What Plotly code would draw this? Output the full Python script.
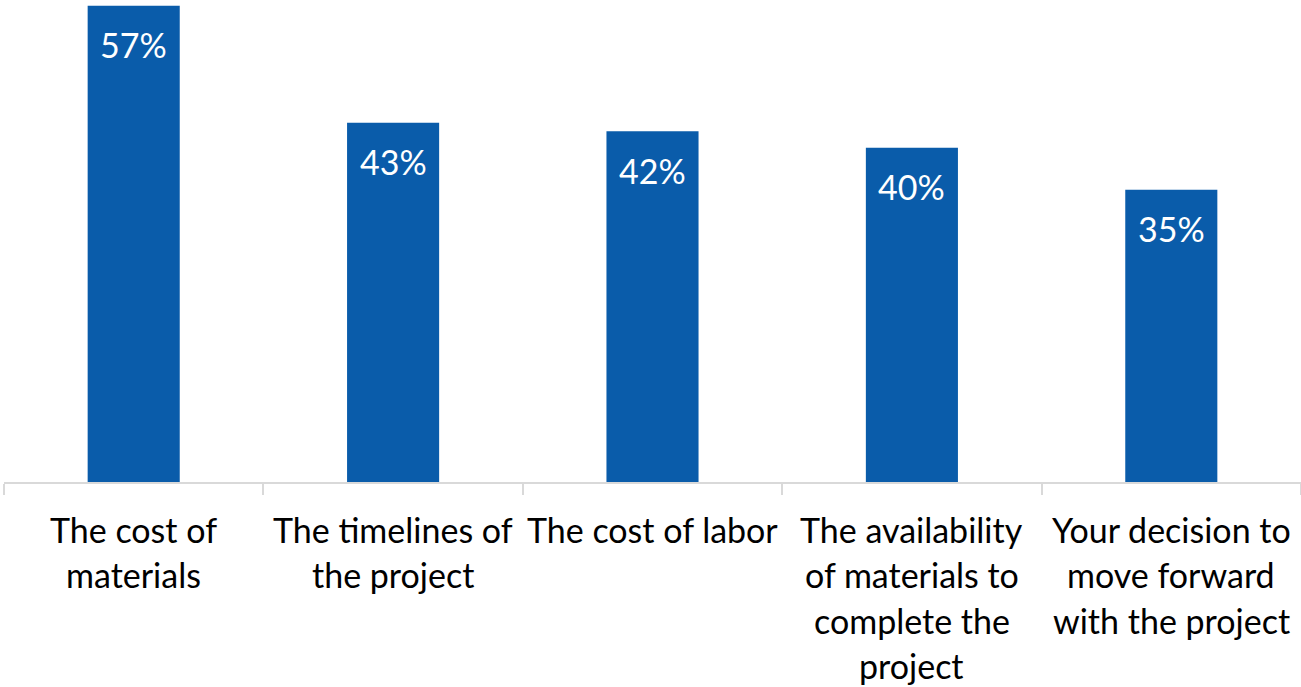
import plotly.graph_objects as go

categories = [
    "The cost of<br>materials",
    "The timelines of<br>the project",
    "The cost of labor",
    "The availability<br>of materials to<br>complete the<br>project",
    "Your decision to<br>move forward<br>with the project",
]
values = [57, 43, 42, 40, 35]
value_labels = ["57%", "43%", "42%", "40%", "35%"]

BAR_COLOR = "#0A5CAA"
AXIS_COLOR = "#D9D9D9"
FONT = "Lato"

fig = go.Figure(
    go.Bar(
        x=categories,
        y=values,
        marker=dict(color=BAR_COLOR, line=dict(width=0)),
        width=0.355,
        hoverinfo="skip",
    )
)

# value labels inside the top of each bar
for cat, v, lab in zip(categories, values, value_labels):
    fig.add_annotation(
        x=cat, y=v, xref="x", yref="y", text=lab, showarrow=False,
        yanchor="middle", yshift=-39, borderpad=0,
        font=dict(family=FONT, size=34, color="white"),
    )

# category labels below the axis, one annotation per line
LINE_STEP = 45.5
for cat in categories:
    for i, line in enumerate(cat.split("<br>")):
        fig.add_annotation(
            x=cat, y=0, xref="x", yref="paper", text=line, showarrow=False,
            yanchor="middle", yshift=-47 - i * LINE_STEP, borderpad=0,
            font=dict(family=FONT, size=34, color="black"),
        )

fig.update_layout(
    width=1301, height=687,
    margin=dict(l=4, r=0, t=0, b=205),
    paper_bgcolor="white", plot_bgcolor="white",
    showlegend=False,
    bargap=0.645,
    xaxis=dict(
        type="category", showticklabels=False, showline=True,
        linecolor=AXIS_COLOR, linewidth=2, ticks="outside", tickson="boundaries",
        ticklen=11, tickcolor=AXIS_COLOR, tickwidth=2, showgrid=False,
        range=[-0.5, 4.5],
    ),
    yaxis=dict(range=[0, 57.7], visible=False, showgrid=False, zeroline=False),
)

fig.write_html("out.html")
